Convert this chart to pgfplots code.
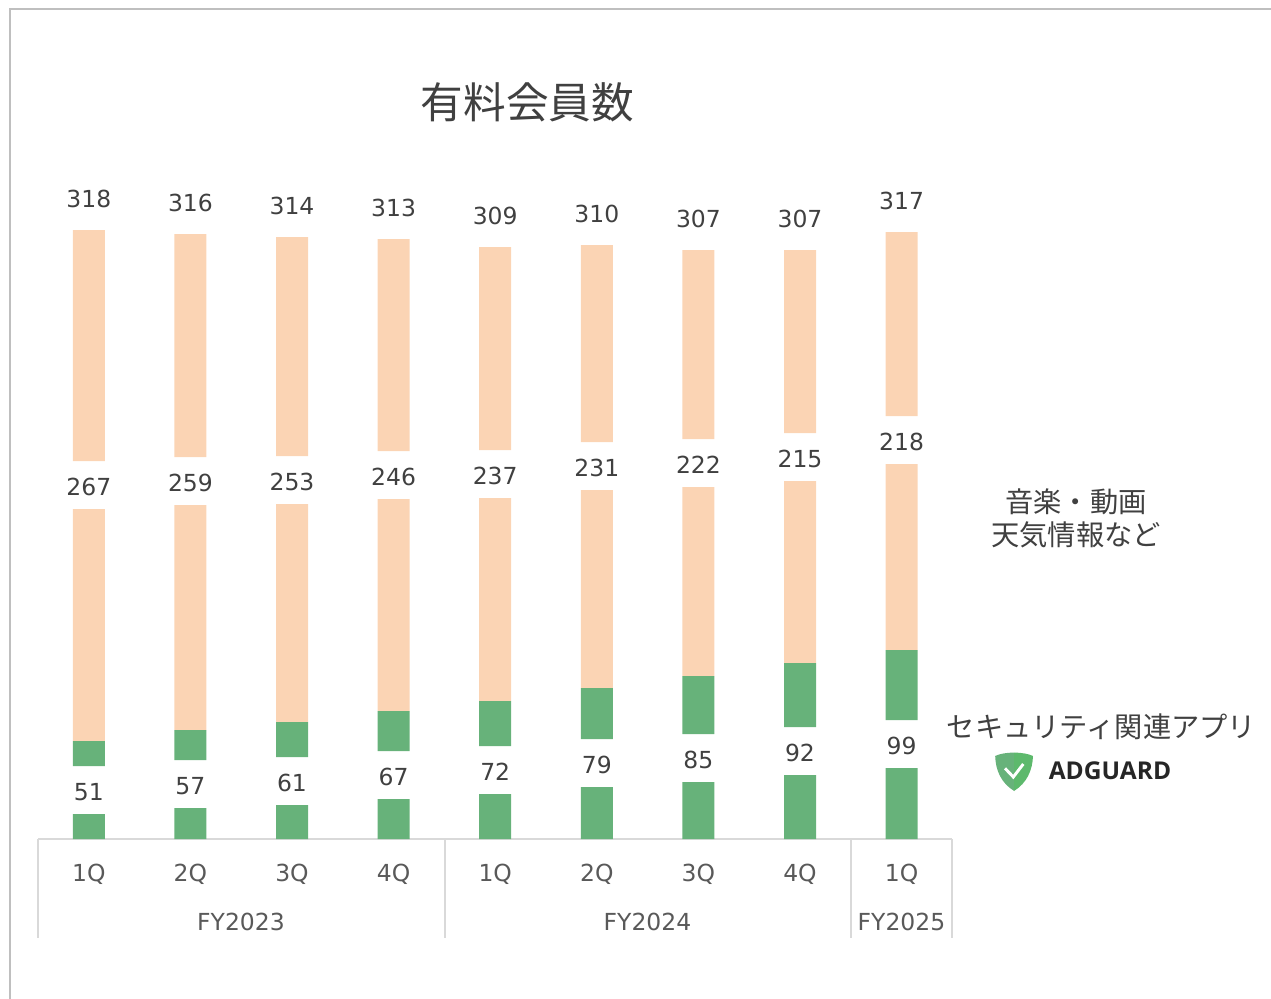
\documentclass[border=0pt]{standalone}
\usepackage{fontspec}
\usepackage{pgfplots}
\pgfplotsset{compat=1.18}
\setmainfont{DejaVu Sans}
\newfontfamily\cjk{Noto Sans CJK JP}
\newfontfamily\logofont{Open Sans}
\definecolor{orangebar}{HTML}{FBD4B4}
\definecolor{greenbar}{HTML}{67B27A}
\definecolor{logoright}{HTML}{5DB96C}
\definecolor{lab}{HTML}{404040}
\definecolor{ticktext}{HTML}{595959}
\definecolor{axisc}{HTML}{D9D9D9}
\definecolor{frame}{HTML}{BFBFBF}
\begin{document}
\begin{tikzpicture}
\useasboundingbox (0,0) rectangle (953.25pt,-749.25pt);
\begin{axis}[
  at={(28.5pt,-629.25pt)}, anchor=south west,
  scale only axis, width=685.8pt, height=480.75pt,
  xmin=-0.5, xmax=8.5, ymin=0, ymax=641,
  ybar stacked, bar width=24pt,
  clip=false,
  axis y line=none, axis x line*=bottom,
  axis line style={axisc, line width=1.5pt, -},
  xtick={0,1,2,3,4,5,6,7,8},
  xticklabels={1Q,2Q,3Q,4Q,1Q,2Q,3Q,4Q,1Q},
  major tick length=0pt,
  xticklabel style={text=ticktext, font=\fontsize{17.6}{20}\selectfont, anchor=base, yshift=-32pt},
  lbl/.style={point meta=explicit symbolic, nodes near coords,
    visualization depends on={value \thisrow{h} \as \hh},
    every node near coord/.append style={text=lab, font=\fontsize{17.6}{20}\selectfont, anchor=center, yshift={\hh*0.375pt+#1}}},
]
% heights in picture units above the baseline: green, gap, green, orange, gap, orange
\addplot[fill=greenbar, draw=none, lbl=16.5pt] table[x=x,y=h,meta=l] {
x h l
0 25 51
1 31 57
2 34 61
3 40 67
4 45 72
5 52 79
6 57 85
7 64 92
8 71 99
};
\addplot[fill=none, draw=none] coordinates {(0,48)(1,48)(2,48)(3,48)(4,48)(5,48)(6,48)(7,48)(8,48)};
\addplot[fill=greenbar, draw=none] coordinates {(0,25)(1,30)(2,35)(3,40)(4,45)(5,51)(6,58)(7,64)(8,70)};
\addplot[fill=orangebar, draw=none, lbl=16.5pt] table[x=x,y=h,meta=l] {
x h l
0 232 267
1 225 259
2 218 253
3 212 246
4 203 237
5 198 231
6 189 222
7 182 215
8 186 218
};
\addplot[fill=none, draw=none] coordinates {(0,48)(1,48)(2,48)(3,48)(4,48)(5,48)(6,48)(7,48)(8,48)};
\addplot[fill=orangebar, draw=none, lbl=23.25pt] table[x=x,y=h,meta=l] {
x h l
0 231 318
1 223 316
2 219 314
3 212 313
4 203 309
5 197 310
6 189 307
7 183 307
8 184 317
};
\end{axis}
\begin{scope}[x=0.75pt,y=-0.75pt]
\draw[frame, line width=1.5pt] (9.5,999) -- (9.5,9.5) -- (1271,9.5);
\foreach \x in {38,444.5,851,952}{\draw[axisc, line width=1.5pt] (\x,839) -- (\x,938);}
\node[ticktext, font=\fontsize{17.6}{20}\selectfont] at (241,922) {FY2023};
\node[ticktext, font=\fontsize{17.6}{20}\selectfont] at (647.5,922) {FY2024};
\node[ticktext, font=\fontsize{17.6}{20}\selectfont] at (901.5,922) {FY2025};
\node[lab, font=\cjk\fontsize{32}{36}\selectfont] at (527.5,102) {有料会員数};
\node[lab, font=\cjk\fontsize{21.2}{25}\selectfont] at (1076,501.5) {音楽・動画};
\node[lab, font=\cjk\fontsize{21.2}{25}\selectfont] at (1076,535) {天気情報など};
\node[lab, font=\cjk\fontsize{21.2}{25}\selectfont] at (1101.5,727) {セキュリティ関連アプリ};
\node[black!85, font=\logofont\bfseries\fontsize{18.4}{22}\selectfont] at (1110,771) {ADGUARD};
% logo
\fill[greenbar] (1014.2,752.6) .. controls (1006,752.6) and (999,754) .. (995.2,756)
  .. controls (995.5,770) and (1001,783) .. (1014.2,791) -- cycle;
\fill[logoright] (1014,752.6) .. controls (1022,752.6) and (1029,754) .. (1033,756)
  .. controls (1032.5,770) and (1027,783) .. (1014,791) -- cycle;
\draw[white, line width=2.2pt] (1005,768.3) -- (1013.3,777) -- (1023.3,764);
\end{scope}
\end{tikzpicture}
\end{document}
